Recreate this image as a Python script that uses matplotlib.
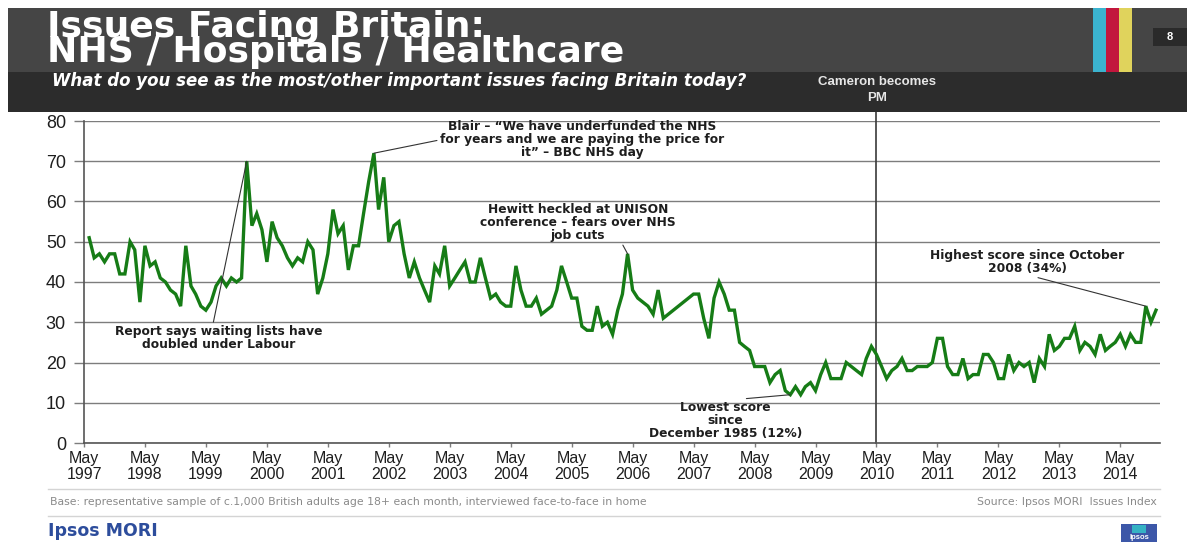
import numpy as np
import pandas as pd
import matplotlib
matplotlib.use("Agg")
import matplotlib.pyplot as plt
from matplotlib.patches import Rectangle

W, H = 1187, 542  # output size in pixels

# % naming NHS / hospitals / healthcare, one reading per month from June 1997
# (nan = months with no reading, the line just joins across them)
first_month = "1997-06"
nhs_share = [
    51, 46, 47, 45, 47, 47, 42, 42, 50, 48, 35,                  # 1997-98
    49, 44, 45, 41, 40, 38, 37, 34, 49, 39, 37, 34,              # 1998-99
    33, 35, 39, 41, 39, 41, 40, 41, 70, 54, 57, 53,              # 1999-00
    45, 55, 51, 49, 46, 44, 46, 45, 50, 48, 37, 41,              # 2000-01
    47, 58, 52, 54, 43, 49, 49, 57, 65, 72, 58, 66,              # 2001-02
    50, 54, 55, 47, 41, 45, 41, 38, 35, 44, 42, 49,              # 2002-03
    39, 41, 43, 45, 40, 40, 46, 41, 36, 37, 35, 34,              # 2003-04
    34, 44, 38, 34, 34, 36, 32, 33, 34, 38, 44, 40,              # 2004-05
    36, 36, 29, 28, 28, 34, 29, 30, 27, 33, 37, 47,              # 2005-06
    38, 36, 35, 34, 32, 38, 31, np.nan, np.nan, np.nan, np.nan, np.nan,  # 2006-07
    37, 37, 31, 26, 36, 40, 37, 33, 33, 25, 24, 23,              # 2007-08
    19, 19, 19, 15, 17, 18, 13, 12, 14, 12, 14, 15,              # 2008-09
    13, 17, 20, 16, 16, 16, 20, 19, 18, 17, 21, 24,              # 2009-10
    22, 19, 16, 18, 19, 21, 18, 18, 19, 19, 19, 20,              # 2010-11
    26, 26, 19, 17, 17, 21, 16, 17, 17, 22, 22, 20,              # 2011-12
    16, 16, 22, 18, 20, 19, 20, 15, 21, 19, 27, 23,              # 2012-13
    24, 26, 26, 29, 23, 25, 24, 22, 27, 23, 24, 25,              # 2013-14
    27, 24, 27, 25, 25, 34, 30, 33,                              # 2014
]

tick_years = list(range(1997, 2015))
y_ticks = [0, 10, 20, 30, 40, 50, 60, 70, 80]

note_texts = [
    "Report says waiting lists have\ndoubled under Labour",
    "Blair \u2013 \u201cWe have underfunded the NHS\nfor years and we are paying the price for\nit\u201d \u2013 BBC NHS day",
    "Hewitt heckled at UNISON\nconference \u2013 fears over NHS\njob cuts",
    "Lowest score\nsince\nDecember 1985 (12%)",
    "Highest score since October\n2008 (34%)",
]
note_months = ["2000-01", "2002-02", "2006-04", "2008-12", "2014-10"]

cameron_month = "2010-05"

green = "#167c16"
grid_col = "#7d7d7d"
ink = "#1e1e1e"

plt.rcParams["font.family"] = ["Liberation Sans", "DejaVu Sans"]

dates = pd.period_range(first_month, periods=len(nhs_share), freq="M").to_timestamp()
share = pd.Series(nhs_share, index=dates, dtype=float)
line = share.dropna()


def fx(px):
    return px / W


def fy(py):
    return 1 - py / H


fig = plt.figure(figsize=(W / 100, H / 100), dpi=100)
fig.patch.set_facecolor("white")

# ---- header bands ----
fig.add_artist(Rectangle((fx(8), fy(72)), fx(W) - fx(8), fy(8) - fy(72),
                         transform=fig.transFigure, color="#454545", lw=0))
fig.add_artist(Rectangle((fx(8), fy(112)), fx(W) - fx(8), fy(72) - fy(112),
                         transform=fig.transFigure, color="#2c2c2c", lw=0))
for x0, c in [(1093, "#3bb3cf"), (1106, "#c2163d"), (1119, "#e0d35c")]:
    fig.add_artist(Rectangle((fx(x0), fy(72)), fx(13), fy(8) - fy(72),
                             transform=fig.transFigure, color=c, lw=0))
fig.add_artist(Rectangle((fx(1153), fy(46)), fx(W - 1153), fy(28) - fy(46),
                         transform=fig.transFigure, color="#2a2a2a", lw=0))
fig.text(fx(1170), fy(37), "8", color="white", fontsize=8, fontweight="bold",
         ha="center", va="center")

fig.text(fx(47), fy(62), "Issues Facing Britain:\nNHS / Hospitals / Healthcare", color="white",
         fontsize=26, fontweight="bold", family="DejaVu Sans", ha="left", va="baseline",
         linespacing=0.68)
fig.text(fx(52), fy(81), "What do you see as the most/other important issues facing Britain today?",
         color="white", fontsize=12, fontweight="bold", fontstyle="italic",
         family="DejaVu Sans", ha="left", va="center")
fig.text(fx(877), fy(90), "Cameron becomes\nPM", color="#e6e6e6", fontsize=9.5,
         fontweight="bold", ha="center", va="center", linespacing=1.45)

# ---- chart ----
ax = fig.add_axes([fx(84), fy(443), fx(1160) - fx(84), fy(121) - fy(443)])
ax.plot(line.index, line.values, color=green, lw=2.4, solid_joinstyle="miter", zorder=3)

ax.set_ylim(0, 80)
ax.set_yticks(y_ticks)
ax.set_yticklabels([str(v) for v in y_ticks], fontsize=13, color=ink)
ax.set_xlim(pd.Timestamp("1997-05-01"), pd.Timestamp("2014-12-25"))
ax.set_xticks([pd.Timestamp(f"{y}-05-01") for y in tick_years])
ax.set_xticklabels([f"May\n{y}" for y in tick_years], fontsize=11.5, color=ink,
                   linespacing=1.05)

ax.yaxis.grid(True, color=grid_col, lw=1)
ax.set_axisbelow(True)
for side in ["top", "right"]:
    ax.spines[side].set_visible(False)
for side in ["left", "bottom"]:
    ax.spines[side].set_color("#555555")
    ax.spines[side].set_linewidth(1.2)
ax.tick_params(axis="y", direction="out", length=7, width=1, color=grid_col, pad=6)
ax.tick_params(axis="x", direction="out", length=3, width=1, color=grid_col, pad=3)

# Cameron becomes PM, line runs up to the header
ax.axvline(pd.Timestamp(cameron_month), ymin=0, ymax=(443 - 112) / (443 - 121),
           color="#3a3a3a", lw=1.2, clip_on=False, zorder=2)

note_style = dict(fontsize=8.8, fontweight="bold", family="DejaVu Sans", color=ink,
                  ha="center", va="center", multialignment="center", linespacing=1.0,
                  zorder=4)
leader = dict(arrowstyle="-", color="#333333", lw=0.8, shrinkA=0, shrinkB=0)

placements = [
    ("1999-07-19", 26.1, (0.47, 1.0)),
    ("2005-07-01", 75.3, (0.0, 0.5)),
    ("2005-06-07", 54.7, (0.69, 0.3)),
    ("2007-11-10", 5.5, (0.43, 1.0)),
    ("2012-10-22", 45.0, (0.5, 0.0)),
]
for text, month, (tx, ty, rel) in zip(note_texts, note_months, placements):
    d = pd.Timestamp(month + "-01")
    ax.annotate(text, xy=(d, share[d]), xytext=(pd.Timestamp(tx), ty),
                textcoords="data", arrowprops=dict(leader, relpos=rel), **note_style)

# ---- footer ----
fig.add_artist(plt.Line2D([fx(48), fx(1160)], [fy(489), fy(489)], transform=fig.transFigure,
                          color="#d4d4d4", lw=1))
fig.add_artist(plt.Line2D([fx(48), fx(1160)], [fy(516), fy(516)], transform=fig.transFigure,
                          color="#d4d4d4", lw=1))
fig.text(fx(50), fy(502), "Base: representative sample of c.1,000 British adults age 18+ each month, "
         "interviewed face-to-face in home", fontsize=7.8, family="DejaVu Sans",
         color="#8a8a8a", ha="left", va="center")
fig.text(fx(1157), fy(502), "Source: Ipsos MORI  Issues Index", fontsize=7.8,
         family="DejaVu Sans", color="#8a8a8a", ha="right", va="center")
fig.text(fx(48), fy(531), "Ipsos MORI", fontsize=12.5, fontweight="bold", family="DejaVu Sans",
         color="#2d4d9c", ha="left", va="center")
fig.add_artist(Rectangle((fx(1121), fy(H)), fx(36), fy(524) - fy(H),
                         transform=fig.transFigure, color="#3c57a8", lw=0))
fig.add_artist(Rectangle((fx(1132), fy(533)), fx(14), fy(525) - fy(533),
                         transform=fig.transFigure, color="#35b2c4", lw=0))
fig.text(fx(1139), fy(537.5), "Ipsos", fontsize=5.5, color="white", fontweight="bold",
         ha="center", va="center")

fig.savefig("out.png", dpi=100)
